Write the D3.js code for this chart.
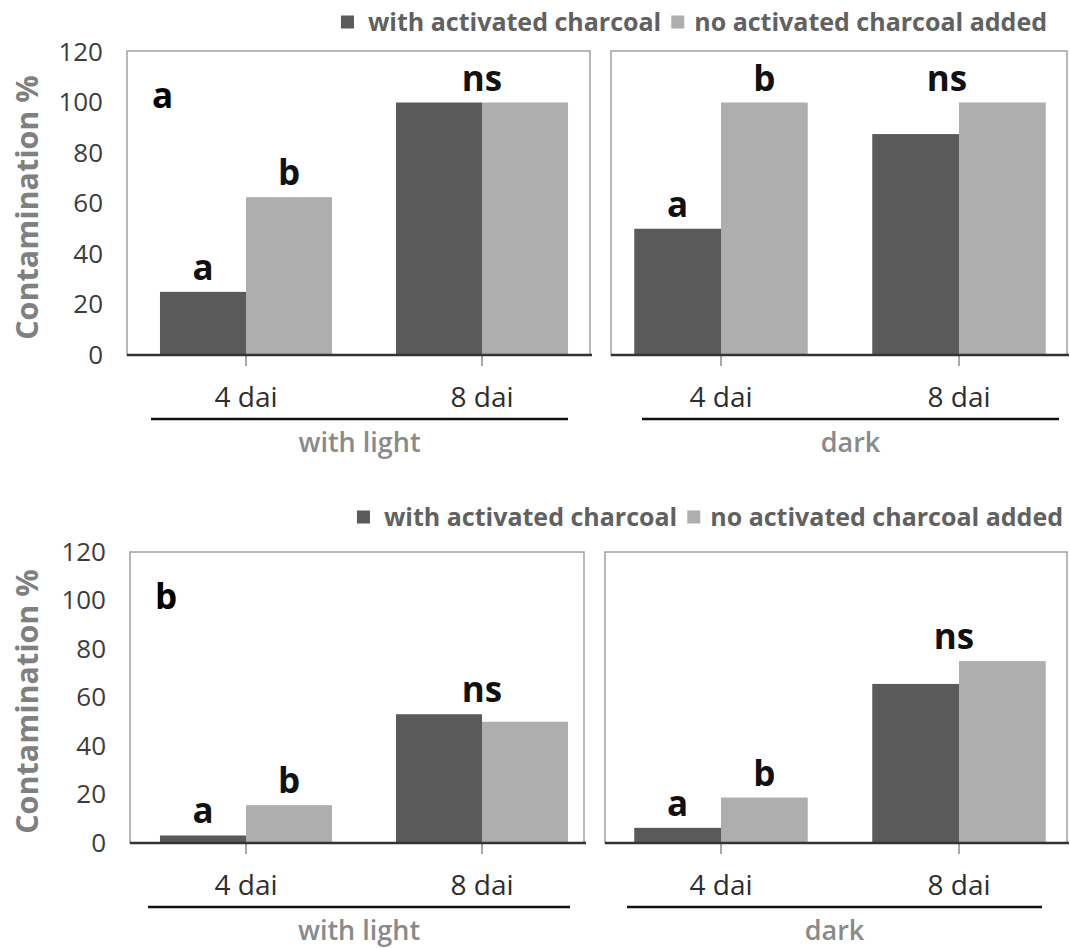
<!DOCTYPE html>
<html>
<head>
<meta charset="utf-8">
<script src="https://cdn.jsdelivr.net/npm/d3@7"></script>
<style>
  html, body { margin: 0; padding: 0; background: #fff; }
  svg { display: block; font-family: "Open Sans", "DejaVu Sans", sans-serif; }
</style>
</head>
<body>
<svg id="chart" width="1070" height="949"></svg>
<script>
// ---------------- DATA ----------------
const categories = ["4 dai", "8 dai"];
const conditions = ["with light", "dark"];
const seriesNames = ["with activated charcoal", "no activated charcoal added"];
const yTicks = [0, 20, 40, 60, 80, 100, 120];
const yAxisTitle = "Contamination %";
const panelLetters = ["a", "b"];

// chart a
const aLightWithCharcoal = [25, 100];
const aLightNoCharcoal   = [62.5, 100];
const aDarkWithCharcoal  = [50, 87.5];
const aDarkNoCharcoal    = [100, 100];
// chart b
const bLightWithCharcoal = [3.1, 53.1];
const bLightNoCharcoal   = [15.6, 50];
const bDarkWithCharcoal  = [6.25, 65.6];
const bDarkNoCharcoal    = [18.75, 75];

// significance letters per category: two entries = one per bar, one entry = whole group
const aLightSig = [["a", "b"], ["ns"]];
const aDarkSig  = [["a", "b"], ["ns"]];
const bLightSig = [["a", "b"], ["ns"]];
const bDarkSig  = [["a", "b"], ["ns"]];

const seriesColors = ["#5a5a5a", "#aeaeae"];

// ---------------- DRAWING ----------------
const svg = d3.select("#chart");
const FONT = '"Open Sans", "DejaVu Sans", sans-serif';

function drawFigure(cfg) {
  const g = svg.append("g");
  const y = d3.scaleLinear().domain([0, 120]).range([cfg.y0, cfg.y120]);

  // legend (laid out from the right edge)
  const leg = g.append("g");
  const legStyle = s => s.style("font-size", "25px").style("font-weight", 700).style("fill", "#616161");
  const t2 = leg.append("text").text(seriesNames[1])
    .attr("y", cfg.legendY).attr("dy", "0.35em").call(legStyle);
  const w2 = t2.node().getComputedTextLength();
  t2.attr("x", cfg.legendRight - w2);
  const sq = 13;
  leg.append("rect").attr("x", cfg.legendRight - w2 - 10 - sq).attr("y", cfg.legendY - sq / 2)
    .attr("width", sq).attr("height", sq).attr("fill", seriesColors[1]);
  const t1 = leg.append("text").text(seriesNames[0])
    .attr("y", cfg.legendY).attr("dy", "0.35em").call(legStyle);
  const w1 = t1.node().getComputedTextLength();
  const t1x = cfg.legendRight - w2 - 10 - sq - 10 - w1;
  t1.attr("x", t1x);
  leg.append("rect").attr("x", t1x - 14 - sq).attr("y", cfg.legendY - sq / 2)
    .attr("width", sq).attr("height", sq).attr("fill", seriesColors[0]);

  // y axis title
  g.append("text").text(yAxisTitle)
    .attr("transform", `translate(${cfg.titleX},${(cfg.y0 + cfg.y120) / 2 + 4}) rotate(-90)`)
    .attr("text-anchor", "middle").attr("dy", "0.35em")
    .style("font-size", "30.5px").style("font-weight", 700).style("fill", "#808080");

  // y axis labels
  const yAxis = d3.axisLeft(y).tickValues(yTicks).tickSize(0).tickPadding(24);
  const ya = g.append("g").attr("transform", `translate(${cfg.panels[0].boxX0},0)`).call(yAxis);
  ya.select(".domain").remove();
  ya.selectAll("text").style("font-size", "26px").style("font-family", FONT).style("fill", "#3c3c3c");

  cfg.panels.forEach((p, pi) => {
    const pg = g.append("g");
    const x = d3.scaleBand().domain(categories).range(p.range).paddingInner(0.271).paddingOuter(0.1355);
    const xs = d3.scaleBand().domain(seriesNames).range([0, x.bandwidth()]);

    // panel frame
    pg.append("rect").attr("x", p.boxX0).attr("y", cfg.boxTop)
      .attr("width", p.boxX1 - p.boxX0).attr("height", cfg.y0 - cfg.boxTop)
      .attr("fill", "none").attr("stroke", "#a0a0a0").attr("stroke-width", 1.5);

    // bars
    const rows = categories.map((c, i) => ({cat: c, vals: [p.series[0][i], p.series[1][i]]}));
    const grp = pg.selectAll("g.cat").data(rows).enter().append("g")
      .attr("transform", d => `translate(${x(d.cat)},0)`);
    grp.selectAll("rect").data(d => d.vals.map((v, k) => ({k, v}))).enter().append("rect")
      .attr("x", d => xs(seriesNames[d.k])).attr("width", xs.bandwidth())
      .attr("y", d => y(d.v)).attr("height", d => y(0) - y(d.v))
      .attr("fill", d => seriesColors[d.k]);

    // significance letters
    const sigStyle = s => s.style("font-size", "35px").style("font-weight", 700).style("fill", "#111");
    rows.forEach((r, i) => {
      const sig = p.sig[i];
      if (sig.length === 2) {
        sig.forEach((s, k) => {
          pg.append("text").text(s)
            .attr("x", x(r.cat) + xs(seriesNames[k]) + xs.bandwidth() / 2)
            .attr("y", y(r.vals[k]) - 12).attr("text-anchor", "middle").call(sigStyle);
        });
      } else {
        pg.append("text").text(sig[0])
          .attr("x", x(r.cat) + x.bandwidth() / 2 + (p.nsShift || 0))
          .attr("y", y(d3.max(r.vals)) - 12).attr("text-anchor", "middle").call(sigStyle);
      }
    });

    // x axis
    const xAxis = d3.axisBottom(x).tickSize(11).tickSizeOuter(0).tickPadding(21);
    const xa = pg.append("g").attr("transform", `translate(0,${cfg.y0})`).call(xAxis);
    xa.select(".domain").remove();
    xa.selectAll(".tick line").attr("stroke", "#8a8a8a").attr("stroke-width", 1.5);
    xa.selectAll("text").style("font-size", "28px").style("font-family", FONT).style("fill", "#2e2e2e");
    pg.append("line").attr("x1", p.boxX0).attr("x2", p.boxX1 + 2)
      .attr("y1", cfg.y0).attr("y2", cfg.y0)
      .attr("stroke", "#333").attr("stroke-width", 2.5);

    // condition underline + label
    pg.append("line").attr("x1", p.ul[0]).attr("x2", p.ul[1])
      .attr("y1", cfg.ulY).attr("y2", cfg.ulY)
      .attr("stroke", "#111").attr("stroke-width", 2.5);
    pg.append("text").text(conditions[pi])
      .attr("x", (p.ul[0] + p.ul[1]) / 2).attr("y", cfg.ulY + 24).attr("dy", "0.35em")
      .attr("text-anchor", "middle")
      .style("font-size", "27px").style("font-weight", 600).style("fill", "#8a8a8a");
  });

  // panel letter
  g.append("text").text(cfg.letter)
    .attr("x", cfg.panels[0].boxX0 + 25).attr("y", cfg.boxTop + 57)
    .style("font-size", "35px").style("font-weight", 700).style("fill", "#000");
}

drawFigure({
  letter: panelLetters[0],
  legendY: 22, legendRight: 1047,
  boxTop: 51, y0: 355, y120: 52,
  titleX: 27, ulY: 419,
  panels: [
    {range: [128, 600], boxX0: 127, boxX1: 590, ul: [151, 568],
     series: [aLightWithCharcoal, aLightNoCharcoal], sig: aLightSig},
    {range: [602, 1078], boxX0: 611, boxX1: 1067, ul: [642, 1059], nsShift: -12,
     series: [aDarkWithCharcoal, aDarkNoCharcoal], sig: aDarkSig}
  ]
});

drawFigure({
  letter: panelLetters[1],
  legendY: 517, legendRight: 1063,
  boxTop: 552, y0: 843, y120: 552,
  titleX: 27, ulY: 907,
  panels: [
    {range: [128, 600], boxX0: 130, boxX1: 584, ul: [148, 570],
     series: [bLightWithCharcoal, bLightNoCharcoal], sig: bLightSig},
    {range: [602, 1078], boxX0: 605, boxX1: 1067, ul: [627, 1042], nsShift: -5,
     series: [bDarkWithCharcoal, bDarkNoCharcoal], sig: bDarkSig}
  ]
});
</script>
</body>
</html>
